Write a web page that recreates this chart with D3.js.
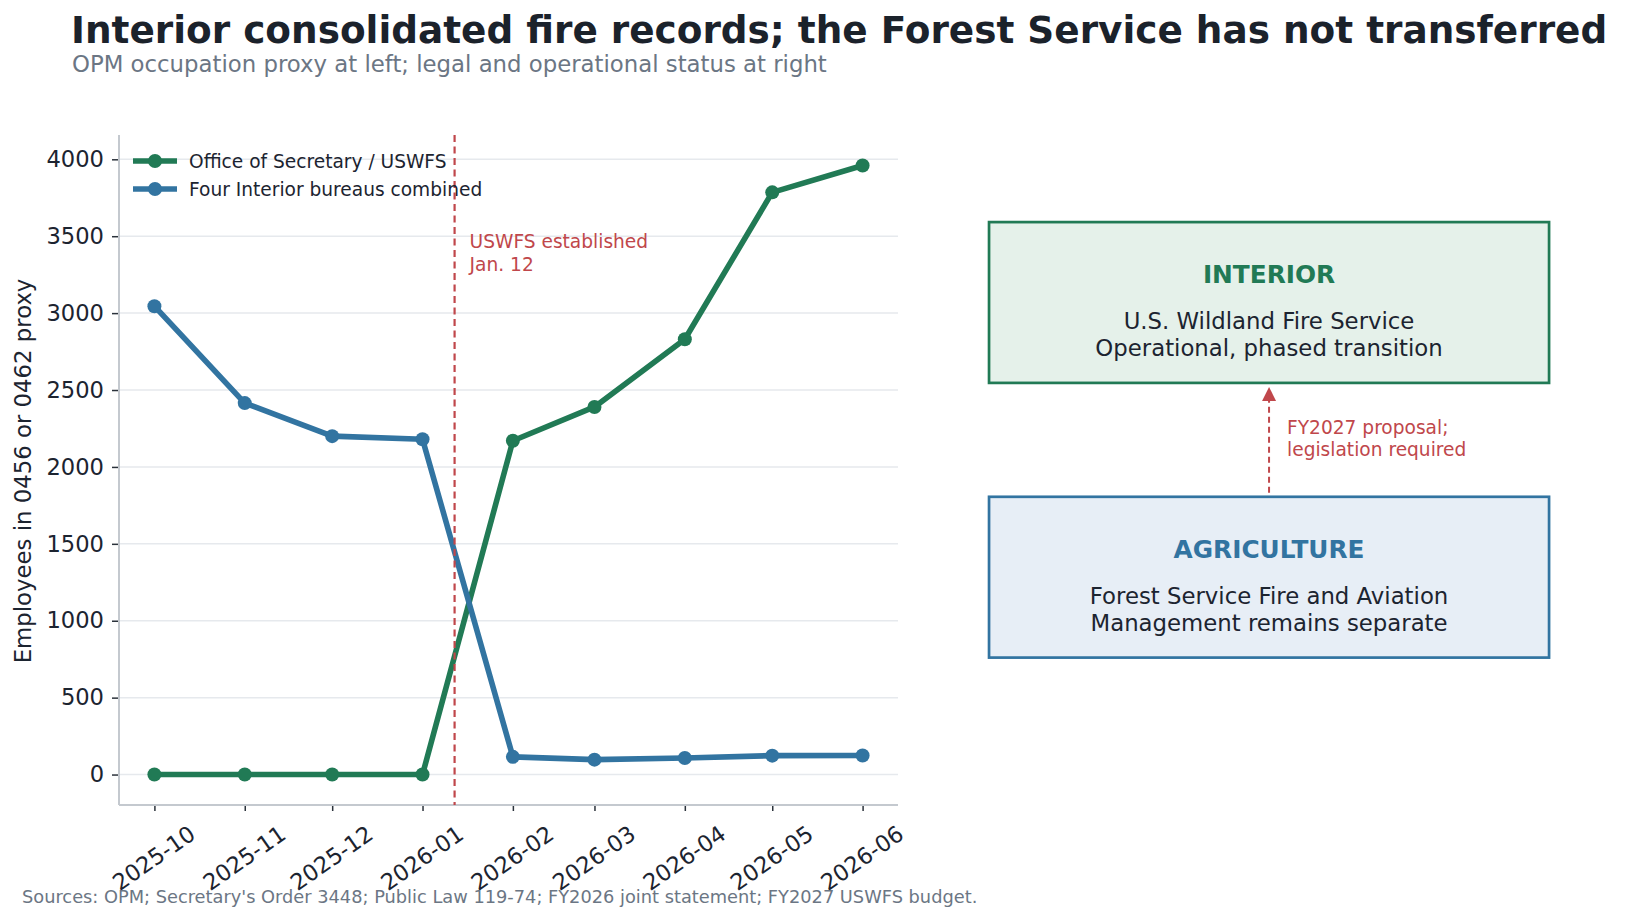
<!DOCTYPE html>
<html>
<head>
<meta charset="utf-8">
<script src="https://cdn.jsdelivr.net/npm/d3@7"></script>
<style>
  body { margin: 0; background: #fff; }
  text { font-family: "DejaVu Sans", sans-serif; }
</style>
</head>
<body>
<svg id="chart" width="1628" height="922"></svg>
<script>
// data
const months = ["2025-10", "2025-11", "2025-12", "2026-01", "2026-02", "2026-03", "2026-04", "2026-05", "2026-06"];
const uswfsValues = [0, 0, 0, 0, 2170, 2390, 2830, 3785, 3960];
const bureauValues = [3045, 2415, 2200, 2180, 115, 97, 108, 123, 124];
const seriesNames = ["Office of Secretary / USWFS", "Four Interior bureaus combined"];
const yTickValues = [0, 500, 1000, 1500, 2000, 2500, 3000, 3500, 4000];
const eventDate = "2026-01-12";
const eventLabel = ["USWFS established", "Jan. 12"];

// right panel text
const boxTitles = ["INTERIOR", "AGRICULTURE"];
const boxLines = [
  ["U.S. Wildland Fire Service", "Operational, phased transition"],
  ["Forest Service Fire and Aviation", "Management remains separate"]
];
const arrowLabel = ["FY2027 proposal;", "legislation required"];

const GREEN = "#217a55", BLUE = "#3274a1", RED = "#c0474b";
const INK = "#1c2430", MUTED = "#6b7684";

const svg = d3.select("#chart");
const margin = { top: 135, left: 119 };
const width = 779, height = 670;
const g = svg.append("g").attr("transform", `translate(${margin.left},${margin.top})`);

const parseMonth = d3.timeParse("%Y-%m");
const dates = months.map(parseMonth);

// 5% padding like matplotlib
const t0 = +dates[0], t1 = +dates[dates.length - 1];
const tPad = (t1 - t0) * 0.05;
const x = d3.scaleTime()
  .domain([new Date(t0 - tPad), new Date(t1 + tPad)])
  .range([0, width]);

const allVals = uswfsValues.concat(bureauValues);
const vMin = d3.min(allVals), vMax = d3.max(allVals);
const vPad = (vMax - vMin) * 0.05;
const y = d3.scaleLinear()
  .domain([vMin - vPad, vMax + vPad])
  .range([height, 0]);

// grid
g.append("g")
  .selectAll("line")
  .data(yTickValues)
  .join("line")
  .attr("x1", 0).attr("x2", width)
  .attr("y1", d => y(d)).attr("y2", d => y(d))
  .attr("stroke", "#e6e9ed")
  .attr("stroke-width", 1.5);

// y axis
g.append("g")
  .call(d3.axisLeft(y).tickValues(yTickValues).tickFormat(d3.format("d")).tickSize(7).tickPadding(8))
  .call(a => {
    a.select(".domain").remove();
    a.selectAll(".tick line").attr("stroke", "#2b323b").attr("stroke-width", 1.5);
    a.selectAll(".tick text")
      .attr("fill", INK)
      .style("font-size", "22.6px")
      .style("font-family", "DejaVu Sans");
  });

// x axis
g.append("g")
  .attr("transform", `translate(0,${height})`)
  .call(d3.axisBottom(x).tickValues(dates).tickFormat(d3.timeFormat("%Y-%m")).tickSize(6))
  .call(a => {
    a.select(".domain").remove();
    a.selectAll(".tick line").attr("stroke", "#2b323b").attr("stroke-width", 1.5);
    a.selectAll(".tick text")
      .attr("fill", INK)
      .attr("y", 0)
      .attr("dy", "0.35em")
      .attr("text-anchor", "middle")
      .attr("transform", "translate(-1,53) rotate(-35)")
      .style("font-size", "22.6px")
      .style("font-family", "DejaVu Sans");
  });

// spines
g.append("line")
  .attr("x1", 0).attr("x2", 0).attr("y1", 0).attr("y2", height)
  .attr("stroke", "#c4c9cf").attr("stroke-width", 2);
g.append("line")
  .attr("x1", 0).attr("x2", width).attr("y1", height).attr("y2", height)
  .attr("stroke", "#c4c9cf").attr("stroke-width", 2);

// series
const series = [
  { name: seriesNames[0], color: GREEN, values: uswfsValues },
  { name: seriesNames[1], color: BLUE, values: bureauValues }
];

const line = d3.line()
  .x((d, i) => x(dates[i]))
  .y(d => y(d));

series.forEach(s => {
  const sg = g.append("g");
  sg.append("path")
    .datum(s.values)
    .attr("d", line)
    .attr("fill", "none")
    .attr("stroke", s.color)
    .attr("stroke-width", 5.6)
    .attr("stroke-linejoin", "round");
  sg.selectAll("circle")
    .data(s.values)
    .join("circle")
    .attr("cx", (d, i) => x(dates[i]))
    .attr("cy", d => y(d))
    .attr("r", 7)
    .attr("fill", s.color);
});

// event line
const ex = x(d3.timeParse("%Y-%m-%d")(eventDate));
g.append("line")
  .attr("x1", ex).attr("x2", ex).attr("y1", 0).attr("y2", height)
  .attr("stroke", RED)
  .attr("stroke-width", 2.2)
  .attr("stroke-dasharray", "7,4.5");

g.append("text")
  .attr("x", ex + 15)
  .attr("y", 113)
  .attr("fill", RED)
  .style("font-size", "18.6px")
  .selectAll("tspan")
  .data(eventLabel)
  .join("tspan")
  .attr("x", ex + 15)
  .attr("dy", (d, i) => i ? 23.4 : 0)
  .text(d => d);

// legend
const legend = g.append("g").attr("transform", "translate(14,26)");
series.forEach((s, i) => {
  const row = legend.append("g").attr("transform", `translate(0,${i * 28})`);
  row.append("line")
    .attr("x1", 0).attr("x2", 44).attr("y1", 0).attr("y2", 0)
    .attr("stroke", s.color).attr("stroke-width", 5.6);
  row.append("circle").attr("cx", 22).attr("cy", 0).attr("r", 7).attr("fill", s.color);
  row.append("text")
    .attr("x", 56).attr("y", 0).attr("dy", "0.35em")
    .attr("fill", INK)
    .style("font-size", "18.6px")
    .text(s.name);
});

// y label
svg.append("text")
  .attr("transform", `translate(31,${margin.top + height / 2 + 1}) rotate(-90)`)
  .attr("text-anchor", "middle")
  .attr("fill", INK)
  .style("font-size", "22.8px")
  .text("Employees in 0456 or 0462 proxy");

// right panel: axes-fraction coordinates
const px = d3.scaleLinear().domain([0, 1]).range([935.7, 1602.4]);
const py = d3.scaleLinear().domain([0, 1]).range([margin.top + height, margin.top]);

const boxes = [
  { title: boxTitles[0], lines: boxLines[0], y0: 0.63, y1: 0.87, stroke: GREEN, fill: "#e5f1ea" },
  { title: boxTitles[1], lines: boxLines[1], y0: 0.22, y1: 0.46, stroke: BLUE, fill: "#e7eef6" }
];

const panel = svg.append("g");
boxes.forEach(b => {
  const top = py(b.y1), bottom = py(b.y0);
  panel.append("rect")
    .attr("x", px(0.08)).attr("y", top)
    .attr("width", px(0.92) - px(0.08)).attr("height", bottom - top)
    .attr("fill", b.fill)
    .attr("stroke", b.stroke)
    .attr("stroke-width", 2.7);
  panel.append("text")
    .attr("x", px(0.5)).attr("y", top + 61)
    .attr("text-anchor", "middle")
    .attr("fill", b.stroke)
    .style("font-size", "24.8px")
    .style("font-weight", "bold")
    .text(b.title);
  panel.append("text")
    .attr("text-anchor", "middle")
    .attr("fill", INK)
    .style("font-size", "22.8px")
    .selectAll("tspan")
    .data(b.lines)
    .join("tspan")
    .attr("x", px(0.5))
    .attr("y", (d, i) => top + 107 + i * 26.7)
    .text(d => d);
});

// dashed arrow between boxes
const ax = px(0.5);
const arrowFrom = py(boxes[1].y1) - 4, arrowTo = py(boxes[0].y0) + 4;
panel.append("line")
  .attr("x1", ax).attr("x2", ax)
  .attr("y1", arrowFrom).attr("y2", arrowTo + 12)
  .attr("stroke", RED).attr("stroke-width", 2)
  .attr("stroke-dasharray", "6,4");
panel.append("path")
  .attr("d", `M${ax},${arrowTo} L${ax - 7},${arrowTo + 14} L${ax + 7},${arrowTo + 14} Z`)
  .attr("fill", RED);
panel.append("text")
  .attr("fill", RED)
  .style("font-size", "18.6px")
  .selectAll("tspan")
  .data(arrowLabel)
  .join("tspan")
  .attr("x", ax + 18)
  .attr("y", (d, i) => (arrowFrom + arrowTo) / 2 - 6 + i * 21.7)
  .text(d => d);

// titles
svg.append("text")
  .attr("x", 71).attr("y", 43)
  .attr("fill", "#1b222b")
  .style("font-size", "37.4px")
  .style("font-weight", "bold")
  .text("Interior consolidated fire records; the Forest Service has not transferred");

svg.append("text")
  .attr("x", 72).attr("y", 72)
  .attr("fill", MUTED)
  .style("font-size", "22.8px")
  .text("OPM occupation proxy at left; legal and operational status at right");

svg.append("text")
  .attr("x", 22).attr("y", 903)
  .attr("fill", MUTED)
  .style("font-size", "17.8px")
  .text("Sources: OPM; Secretary's Order 3448; Public Law 119-74; FY2026 joint statement; FY2027 USWFS budget.");
</script>
</body>
</html>
